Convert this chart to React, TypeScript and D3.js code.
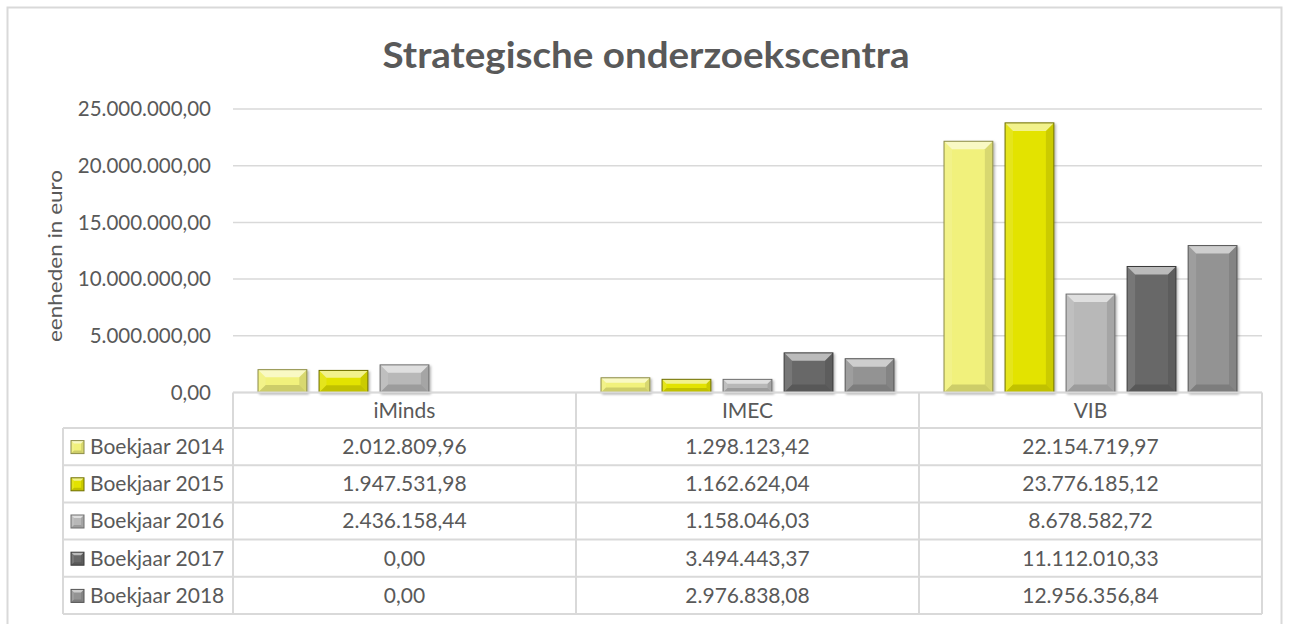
import React, { useEffect, useRef } from "react"
import * as d3 from "d3"

const categories = ["iMinds", "IMEC", "VIB"]
const seriesNames = ["Boekjaar 2014", "Boekjaar 2015", "Boekjaar 2016", "Boekjaar 2017", "Boekjaar 2018"]
const values2014 = [2012809.96, 1298123.42, 22154719.97]
const values2015 = [1947531.98, 1162624.04, 23776185.12]
const values2016 = [2436158.44, 1158046.03, 8678582.72]
const values2017 = [0, 3494443.37, 11112010.33]
const values2018 = [0, 2976838.08, 12956356.84]
const yTicks = [0, 5000000, 10000000, 15000000, 20000000, 25000000]

const seriesValues = [values2014, values2015, values2016, values2017, values2018]
const faceColors = ["#F1F17C", "#E3E300", "#B8B8B8", "#686868", "#939393"]
const edgeColors = ["#8C8C48", "#6E6E00", "#6E6E6E", "#3A3A3A", "#555555"]

const nl = d3.formatLocale({ decimal: ",", thousands: ".", grouping: [3], currency: ["€", ""] })
const fmt = nl.format(",.2f")

const W = 1289
const H = 624
const FONT = "Lato, 'Open Sans', sans-serif"
const TEXT = "#595959"
const LINE = "#D9D9D9"

function drawBevel(g: any, x: number, y: number, w: number, h: number, face: string, edge: string, maxB: number) {
  if (h <= 0) return
  const b = Math.min(maxB, h / 3, w / 4)
  g.append("rect")
    .attr("x", x).attr("y", y).attr("width", w).attr("height", h)
    .attr("fill", face)
  const poly = (pts: number[][], fill: string, op: number) => {
    g.append("polygon")
      .attr("points", pts.map(p => p.join(",")).join(" "))
      .attr("fill", fill).attr("fill-opacity", op)
  }
  poly([[x, y], [x + w, y], [x + w - b, y + b], [x + b, y + b]], "#ffffff", 0.55)
  poly([[x, y], [x + b, y + b], [x + b, y + h - b], [x, y + h]], "#ffffff", 0.1)
  poly([[x + w, y], [x + w - b, y + b], [x + w - b, y + h - b], [x + w, y + h]], "#000000", 0.1)
  poly([[x, y + h], [x + b, y + h - b], [x + w - b, y + h - b], [x + w, y + h]], "#000000", 0.15)
  g.append("rect")
    .attr("x", x).attr("y", y).attr("width", w).attr("height", h)
    .attr("fill", "none").attr("stroke", edge).attr("stroke-width", 1)
}

function App() {
  const ref = useRef<SVGSVGElement>(null)

  useEffect(() => {
    const svg = d3.select(ref.current)
    svg.selectAll("*").remove()

    const left = 233
    const right = 1262
    const top = 109
    const bottom = 392.5
    const tableBottom = 614
    const legendLeft = 63

    const defs = svg.append("defs")
    defs.append("filter").attr("id", "shadow")
      .attr("x", "-20%").attr("y", "-20%").attr("width", "140%").attr("height", "140%")
      .append("feDropShadow")
      .attr("dx", 1.5).attr("dy", 1.5).attr("stdDeviation", 1.2)
      .attr("flood-color", "#000").attr("flood-opacity", 0.3)

    // outer frame
    svg.append("rect")
      .attr("x", 7.5).attr("y", 7.5).attr("width", 1274).attr("height", 624)
      .attr("fill", "#fff").attr("stroke", LINE).attr("stroke-width", 2)

    svg.append("text")
      .attr("x", 646).attr("y", 68)
      .attr("text-anchor", "middle")
      .attr("font-family", FONT).attr("font-weight", "bold").attr("font-size", 36)
      .attr("textLength", 527).attr("lengthAdjust", "spacingAndGlyphs")
      .attr("fill", TEXT)
      .text("Strategische onderzoekscentra")

    const x0 = d3.scaleBand<string>().domain(categories).range([left, right])
    const x1 = d3.scaleBand<string>().domain(seriesNames).range([0, x0.bandwidth()])
      .paddingInner(0.2).paddingOuter(0.41)
    const y = d3.scaleLinear().domain([0, 25000000]).range([bottom, top])
    const rowY = d3.scaleBand<string>().domain(seriesNames).range([428, tableBottom])

    // gridlines
    svg.append("g").selectAll("line")
      .data(yTicks)
      .enter()
      .append("line")
      .attr("x1", left).attr("x2", right)
      .attr("y1", d => y(d)).attr("y2", d => y(d))
      .attr("stroke", LINE).attr("stroke-width", 1.5)

    svg.append("g").selectAll("text")
      .data(yTicks)
      .enter()
      .append("text")
      .attr("x", 211).attr("y", d => y(d))
      .attr("dy", "0.35em")
      .attr("text-anchor", "end")
      .attr("font-family", FONT).attr("font-size", 20.5)
      .attr("fill", TEXT)
      .text(d => fmt(d))

    svg.append("text")
      .attr("transform", `translate(62, 256) rotate(-90)`)
      .attr("text-anchor", "middle")
      .attr("font-family", FONT).attr("font-size", 20)
      .attr("textLength", 172).attr("lengthAdjust", "spacingAndGlyphs")
      .attr("fill", TEXT)
      .text("eenheden in euro")

    // bars
    const bars = svg.append("g").attr("filter", "url(#shadow)")
    seriesNames.forEach((s, si) => {
      categories.forEach((c, ci) => {
        const v = seriesValues[si][ci]
        const bx = (x0(c) as number) + (x1(s) as number)
        const by = y(v)
        drawBevel(bars.append("g"), bx, by, x1.bandwidth(), bottom - by, faceColors[si], edgeColors[si], 8)
      })
    })

    // data table
    const table = svg.append("g")
    const hline = (x1v: number, x2v: number, yv: number) =>
      table.append("line").attr("x1", x1v).attr("x2", x2v).attr("y1", yv).attr("y2", yv)
        .attr("stroke", LINE).attr("stroke-width", 2)
    const vline = (xv: number, y1v: number, y2v: number) =>
      table.append("line").attr("x1", xv).attr("x2", xv).attr("y1", y1v).attr("y2", y2v)
        .attr("stroke", LINE).attr("stroke-width", 2)

    hline(left, right, bottom)
    seriesNames.forEach(s => hline(legendLeft, right, rowY(s) as number))
    hline(legendLeft, right, tableBottom)
    categories.forEach(c => vline(x0(c) as number, bottom, tableBottom))
    vline(right, bottom, tableBottom)
    vline(legendLeft, 428, tableBottom)

    table.selectAll("text.cat")
      .data(categories)
      .enter()
      .append("text")
      .attr("class", "cat")
      .attr("x", d => (x0(d) as number) + x0.bandwidth() / 2)
      .attr("y", (bottom + 428) / 2)
      .attr("dy", "0.35em")
      .attr("text-anchor", "middle")
      .attr("font-family", FONT).attr("font-size", 21)
      .attr("fill", TEXT)
      .text(d => d)

    seriesNames.forEach((s, si) => {
      const cy = (rowY(s) as number) + rowY.bandwidth() / 2
      drawBevel(table.append("g"), 71, cy - 6, 13, 13, faceColors[si], edgeColors[si], 3)
      table.append("text")
        .attr("x", 90).attr("y", cy).attr("dy", "0.35em")
        .attr("font-family", FONT).attr("font-size", 21)
        .attr("fill", TEXT)
        .text(s)
      categories.forEach((c, ci) => {
        table.append("text")
          .attr("x", (x0(c) as number) + x0.bandwidth() / 2)
          .attr("y", cy).attr("dy", "0.35em")
          .attr("text-anchor", "middle")
          .attr("font-family", FONT).attr("font-size", 21)
          .attr("fill", TEXT)
          .text(fmt(seriesValues[si][ci]))
      })
    })
  }, [])

  return (
    <svg ref={ref} width={W} height={H}
      style={{ position: "absolute", left: 0, top: 0, display: "block", background: "#fff" }} />
  )
}

export default App
